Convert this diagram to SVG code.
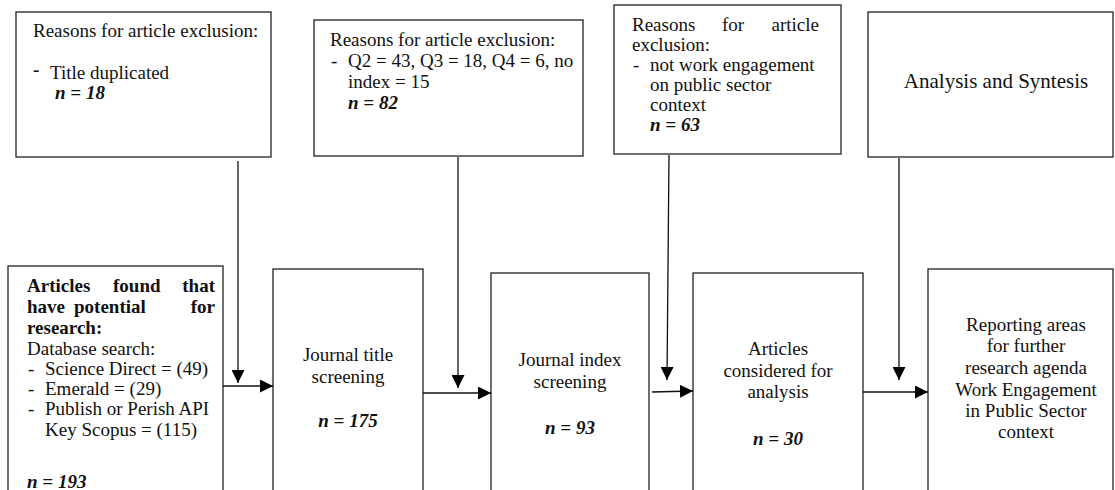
<svg xmlns="http://www.w3.org/2000/svg" width="1115" height="490" viewBox="0 0 1115 490">
<style>
text{font-family:"Liberation Serif","Times New Roman",serif;font-size:19px;fill:#111}
.box{fill:#fff;stroke:#222;stroke-width:1.3}
.c{text-anchor:middle}
.b{font-weight:bold}
.bi{font-weight:bold;font-style:italic}
.ln{stroke:#111;stroke-width:1.3;fill:none}
</style>
<defs>
<marker id="ah" markerUnits="userSpaceOnUse" markerWidth="13" markerHeight="13" refX="13" refY="6.5" orient="auto">
<path d="M0,0 L13,6.5 L0,13 z" fill="#000"/>
</marker>
</defs>
<rect width="1115" height="490" fill="#fff"/>
<g id="excl1">
<rect class="box" x="16" y="12" width="255" height="145"/>
<text x="33" y="37">Reasons for article exclusion:</text>
<text x="33" y="76" class="b">-</text>
<text x="50" y="79">Title duplicated</text>
<text x="55" y="99" class="bi">n = 18</text>
</g>
<g id="excl2">
<rect class="box" x="314" y="20" width="269" height="136"/>
<text x="330" y="46">Reasons for article exclusion:</text>
<text x="331" y="67">-</text>
<text x="348" y="67">Q2 = 43, Q3 = 18, Q4 = 6, no</text>
<text x="348" y="88">index = 15</text>
<text x="348" y="109" class="bi">n = 82</text>
</g>
<g id="excl3">
<rect class="box" x="614" y="5" width="227" height="149"/>
<text y="31"><tspan x="632">Reasons</tspan><tspan x="722">for</tspan><tspan x="819" text-anchor="end">article</tspan></text>
<text x="632" y="51">exclusion:</text>
<text x="633" y="71">-</text>
<text x="650" y="71">not work engagement</text>
<text x="650" y="91">on public sector</text>
<text x="650" y="111">context</text>
<text x="650" y="131" class="bi">n = 63</text>
</g>
<g id="analysis">
<rect class="box" x="868" y="12" width="245" height="145"/>
<text x="996" y="88" class="c" style="font-size:21px">Analysis and Syntesis</text>
</g>
<g id="found">
<rect class="box" x="8" y="266" width="215" height="240"/>
<text y="292" class="b"><tspan x="27">Articles</tspan><tspan x="113">found</tspan><tspan x="215" text-anchor="end">that</tspan></text>
<text y="313" class="b"><tspan x="27">have</tspan><tspan x="74">potential</tspan><tspan x="215" text-anchor="end">for</tspan></text>
<text x="27" y="334" class="b">research:</text>
<text x="27" y="355">Database search:</text>
<text x="28" y="375">-</text>
<text x="45" y="375">Science Direct = (49)</text>
<text x="28" y="395">-</text>
<text x="45" y="395">Emerald = (29)</text>
<text x="28" y="415">-</text>
<text x="45" y="415">Publish or Perish API</text>
<text x="45" y="436">Key Scopus = (115)</text>
<text x="27" y="488" class="bi">n = 193</text>
</g>
<g id="title">
<rect class="box" x="273" y="269" width="150" height="240"/>
<text x="348" y="361" class="c">Journal title</text>
<text x="348" y="383" class="c">screening</text>
<text x="348" y="427" class="c bi">n = 175</text>
</g>
<g id="index">
<rect class="box" x="491" y="273" width="158" height="240"/>
<text x="570" y="366" class="c">Journal index</text>
<text x="570" y="388" class="c">screening</text>
<text x="570" y="434" class="c bi">n = 93</text>
</g>
<g id="considered">
<rect class="box" x="693" y="273" width="170" height="240"/>
<text x="778" y="355" class="c">Articles</text>
<text x="778" y="377" class="c">considered for</text>
<text x="778" y="398" class="c">analysis</text>
<text x="778" y="445" class="c bi">n = 30</text>
</g>
<g id="reporting">
<rect class="box" x="928" y="269" width="185" height="240"/>
<text x="1026" y="331" class="c">Reporting areas</text>
<text x="1026" y="352" class="c">for further</text>
<text x="1026" y="374" class="c">research agenda</text>
<text x="1026" y="396" class="c">Work Engagement</text>
<text x="1026" y="417" class="c">in Public Sector</text>
<text x="1026" y="438" class="c">context</text>
</g>
<g id="connectors">
<line class="ln" x1="223" y1="386" x2="273" y2="386" marker-end="url(#ah)"/>
<line class="ln" x1="423" y1="393" x2="491" y2="393" marker-end="url(#ah)"/>
<line class="ln" x1="652" y1="392" x2="693" y2="391" marker-end="url(#ah)"/>
<line class="ln" x1="863" y1="392" x2="928" y2="392" marker-end="url(#ah)"/>
<line class="ln" x1="238" y1="161" x2="238" y2="383" marker-end="url(#ah)"/>
<line class="ln" x1="458" y1="157" x2="458" y2="388" marker-end="url(#ah)"/>
<line class="ln" x1="669" y1="155" x2="667" y2="380" marker-end="url(#ah)"/>
<line class="ln" x1="899" y1="158" x2="899" y2="380" marker-end="url(#ah)"/>
</g>
</svg>
